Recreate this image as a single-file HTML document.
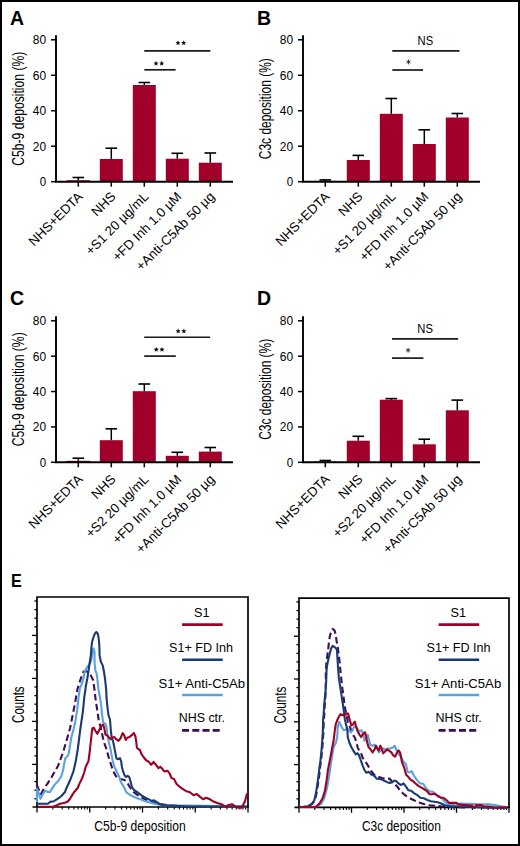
<!DOCTYPE html>
<html><head><meta charset="utf-8"><style>
html,body{margin:0;padding:0;background:#fff;}
body{width:520px;height:846px;overflow:hidden;}
.frame{position:absolute;left:0;top:0;width:520px;height:846px;box-sizing:border-box;border:2px solid #000;}
svg{position:absolute;left:0;top:0;font-family:"Liberation Sans",sans-serif;}
</style></head><body>
<svg width="520" height="846" viewBox="0 0 520 846">
<text x="10" y="24.5" font-family="Liberation Sans" font-weight="bold" font-size="19.5">A</text>
<line x1="56" y1="35.30" x2="56" y2="181.7" stroke="#000" stroke-width="1.9"/>
<line x1="51" y1="181.70" x2="56" y2="181.70" stroke="#000" stroke-width="1.5"/>
<text x="46.1" y="186.10" text-anchor="end" font-family="Liberation Sans" font-size="13.5" textLength="6.4" lengthAdjust="spacingAndGlyphs">0</text>
<line x1="51" y1="146.22" x2="56" y2="146.22" stroke="#000" stroke-width="1.5"/>
<text x="46.1" y="150.62" text-anchor="end" font-family="Liberation Sans" font-size="13.5" textLength="13.3" lengthAdjust="spacingAndGlyphs">20</text>
<line x1="51" y1="110.75" x2="56" y2="110.75" stroke="#000" stroke-width="1.5"/>
<text x="46.1" y="115.15" text-anchor="end" font-family="Liberation Sans" font-size="13.5" textLength="13.3" lengthAdjust="spacingAndGlyphs">40</text>
<line x1="51" y1="75.27" x2="56" y2="75.27" stroke="#000" stroke-width="1.5"/>
<text x="46.1" y="79.67" text-anchor="end" font-family="Liberation Sans" font-size="13.5" textLength="13.3" lengthAdjust="spacingAndGlyphs">60</text>
<line x1="51" y1="39.80" x2="56" y2="39.80" stroke="#000" stroke-width="1.5"/>
<text x="46.1" y="44.20" text-anchor="end" font-family="Liberation Sans" font-size="13.5" textLength="13.3" lengthAdjust="spacingAndGlyphs">80</text>
<text transform="translate(23.700000000000003,108.69999999999999) rotate(-90)" text-anchor="middle" font-family="Liberation Sans" font-size="16.5" textLength="114" lengthAdjust="spacingAndGlyphs">C5b-9 deposition (%)</text>
<rect x="66.80" y="180.20" width="23" height="1.50" fill="#A0002A"/>
<line x1="78.30" y1="177.50" x2="78.30" y2="180.20" stroke="#000" stroke-width="1.5"/>
<line x1="72.50" y1="177.50" x2="84.10" y2="177.50" stroke="#000" stroke-width="1.6"/>
<rect x="99.80" y="159.00" width="23" height="22.70" fill="#A0002A"/>
<line x1="111.30" y1="148.20" x2="111.30" y2="159.00" stroke="#000" stroke-width="1.5"/>
<line x1="105.50" y1="148.20" x2="117.10" y2="148.20" stroke="#000" stroke-width="1.6"/>
<rect x="132.80" y="85.00" width="23" height="96.70" fill="#A0002A"/>
<line x1="144.30" y1="82.50" x2="144.30" y2="85.00" stroke="#000" stroke-width="1.5"/>
<line x1="138.50" y1="82.50" x2="150.10" y2="82.50" stroke="#000" stroke-width="1.6"/>
<rect x="165.80" y="158.70" width="23" height="23.00" fill="#A0002A"/>
<line x1="177.30" y1="153.30" x2="177.30" y2="158.70" stroke="#000" stroke-width="1.5"/>
<line x1="171.50" y1="153.30" x2="183.10" y2="153.30" stroke="#000" stroke-width="1.6"/>
<rect x="198.80" y="162.70" width="23" height="19.00" fill="#A0002A"/>
<line x1="210.30" y1="153.00" x2="210.30" y2="162.70" stroke="#000" stroke-width="1.5"/>
<line x1="204.50" y1="153.00" x2="216.10" y2="153.00" stroke="#000" stroke-width="1.6"/>
<line x1="55.05" y1="181.7" x2="233" y2="181.7" stroke="#000" stroke-width="1.9"/>
<line x1="78.30" y1="181.7" x2="78.30" y2="186.7" stroke="#000" stroke-width="1.5"/>
<line x1="111.30" y1="181.7" x2="111.30" y2="186.7" stroke="#000" stroke-width="1.5"/>
<line x1="144.30" y1="181.7" x2="144.30" y2="186.7" stroke="#000" stroke-width="1.5"/>
<line x1="177.30" y1="181.7" x2="177.30" y2="186.7" stroke="#000" stroke-width="1.5"/>
<line x1="210.30" y1="181.7" x2="210.30" y2="186.7" stroke="#000" stroke-width="1.5"/>
<text transform="translate(83.40,197.40) rotate(-45)" text-anchor="end" font-family="Liberation Sans" font-size="13.2">NHS+EDTA</text>
<text transform="translate(116.40,197.40) rotate(-45)" text-anchor="end" font-family="Liberation Sans" font-size="13.2">NHS</text>
<text transform="translate(149.40,197.40) rotate(-45)" text-anchor="end" font-family="Liberation Sans" font-size="13.2">+S1 20 µg/mL</text>
<text transform="translate(182.40,197.40) rotate(-45)" text-anchor="end" font-family="Liberation Sans" font-size="13.2">+FD Inh 1.0 µM</text>
<text transform="translate(215.40,197.40) rotate(-45)" text-anchor="end" font-family="Liberation Sans" font-size="13.2">+Anti-C5Ab 50 µg</text>
<line x1="144.30" y1="69.8" x2="175.60" y2="69.8" stroke="#1a1a1a" stroke-width="1.7"/>
<line x1="144.30" y1="50.8" x2="210.40" y2="50.8" stroke="#1a1a1a" stroke-width="1.7"/>
<polygon points="156.00,60.80 156.73,62.44 158.52,62.63 157.18,63.83 157.56,65.59 156.00,64.70 154.44,65.59 154.82,63.83 153.48,62.63 155.27,62.44" fill="#111"/>
<polygon points="161.70,60.80 162.43,62.44 164.22,62.63 162.88,63.83 163.26,65.59 161.70,64.70 160.14,65.59 160.52,63.83 159.18,62.63 160.97,62.44" fill="#111"/>
<polygon points="178.00,40.30 178.73,41.94 180.52,42.13 179.18,43.33 179.56,45.09 178.00,44.20 176.44,45.09 176.82,43.33 175.48,42.13 177.27,41.94" fill="#111"/>
<polygon points="183.70,40.30 184.43,41.94 186.22,42.13 184.88,43.33 185.26,45.09 183.70,44.20 182.14,45.09 182.52,43.33 181.18,42.13 182.97,41.94" fill="#111"/>
<text x="257" y="24.5" font-family="Liberation Sans" font-weight="bold" font-size="19.5">B</text>
<line x1="303" y1="35.30" x2="303" y2="181.7" stroke="#000" stroke-width="1.9"/>
<line x1="298" y1="181.70" x2="303" y2="181.70" stroke="#000" stroke-width="1.5"/>
<text x="293.1" y="186.10" text-anchor="end" font-family="Liberation Sans" font-size="13.5" textLength="6.4" lengthAdjust="spacingAndGlyphs">0</text>
<line x1="298" y1="146.22" x2="303" y2="146.22" stroke="#000" stroke-width="1.5"/>
<text x="293.1" y="150.62" text-anchor="end" font-family="Liberation Sans" font-size="13.5" textLength="13.3" lengthAdjust="spacingAndGlyphs">20</text>
<line x1="298" y1="110.75" x2="303" y2="110.75" stroke="#000" stroke-width="1.5"/>
<text x="293.1" y="115.15" text-anchor="end" font-family="Liberation Sans" font-size="13.5" textLength="13.3" lengthAdjust="spacingAndGlyphs">40</text>
<line x1="298" y1="75.27" x2="303" y2="75.27" stroke="#000" stroke-width="1.5"/>
<text x="293.1" y="79.67" text-anchor="end" font-family="Liberation Sans" font-size="13.5" textLength="13.3" lengthAdjust="spacingAndGlyphs">60</text>
<line x1="298" y1="39.80" x2="303" y2="39.80" stroke="#000" stroke-width="1.5"/>
<text x="293.1" y="44.20" text-anchor="end" font-family="Liberation Sans" font-size="13.5" textLength="13.3" lengthAdjust="spacingAndGlyphs">80</text>
<text transform="translate(270.7,108.69999999999999) rotate(-90)" text-anchor="middle" font-family="Liberation Sans" font-size="16.5" textLength="101" lengthAdjust="spacingAndGlyphs">C3c deposition (%)</text>
<rect x="313.80" y="180.90" width="23" height="0.80" fill="#A0002A"/>
<line x1="325.30" y1="179.90" x2="325.30" y2="180.90" stroke="#000" stroke-width="1.5"/>
<line x1="319.50" y1="179.90" x2="331.10" y2="179.90" stroke="#000" stroke-width="1.6"/>
<rect x="346.80" y="160.00" width="23" height="21.70" fill="#A0002A"/>
<line x1="358.30" y1="155.40" x2="358.30" y2="160.00" stroke="#000" stroke-width="1.5"/>
<line x1="352.50" y1="155.40" x2="364.10" y2="155.40" stroke="#000" stroke-width="1.6"/>
<rect x="379.80" y="113.80" width="23" height="67.90" fill="#A0002A"/>
<line x1="391.30" y1="98.50" x2="391.30" y2="113.80" stroke="#000" stroke-width="1.5"/>
<line x1="385.50" y1="98.50" x2="397.10" y2="98.50" stroke="#000" stroke-width="1.6"/>
<rect x="412.80" y="144.00" width="23" height="37.70" fill="#A0002A"/>
<line x1="424.30" y1="129.80" x2="424.30" y2="144.00" stroke="#000" stroke-width="1.5"/>
<line x1="418.50" y1="129.80" x2="430.10" y2="129.80" stroke="#000" stroke-width="1.6"/>
<rect x="445.80" y="117.50" width="23" height="64.20" fill="#A0002A"/>
<line x1="457.30" y1="113.50" x2="457.30" y2="117.50" stroke="#000" stroke-width="1.5"/>
<line x1="451.50" y1="113.50" x2="463.10" y2="113.50" stroke="#000" stroke-width="1.6"/>
<line x1="302.05" y1="181.7" x2="480" y2="181.7" stroke="#000" stroke-width="1.9"/>
<line x1="325.30" y1="181.7" x2="325.30" y2="186.7" stroke="#000" stroke-width="1.5"/>
<line x1="358.30" y1="181.7" x2="358.30" y2="186.7" stroke="#000" stroke-width="1.5"/>
<line x1="391.30" y1="181.7" x2="391.30" y2="186.7" stroke="#000" stroke-width="1.5"/>
<line x1="424.30" y1="181.7" x2="424.30" y2="186.7" stroke="#000" stroke-width="1.5"/>
<line x1="457.30" y1="181.7" x2="457.30" y2="186.7" stroke="#000" stroke-width="1.5"/>
<text transform="translate(330.40,197.40) rotate(-45)" text-anchor="end" font-family="Liberation Sans" font-size="13.2">NHS+EDTA</text>
<text transform="translate(363.40,197.40) rotate(-45)" text-anchor="end" font-family="Liberation Sans" font-size="13.2">NHS</text>
<text transform="translate(396.40,197.40) rotate(-45)" text-anchor="end" font-family="Liberation Sans" font-size="13.2">+S1 20 µg/mL</text>
<text transform="translate(429.40,197.40) rotate(-45)" text-anchor="end" font-family="Liberation Sans" font-size="13.2">+FD Inh 1.0 µM</text>
<text transform="translate(462.40,197.40) rotate(-45)" text-anchor="end" font-family="Liberation Sans" font-size="13.2">+Anti-C5Ab 50 µg</text>
<line x1="392.30" y1="70" x2="423.10" y2="70" stroke="#1a1a1a" stroke-width="1.7"/>
<line x1="392.30" y1="50.8" x2="459.50" y2="50.8" stroke="#1a1a1a" stroke-width="1.7"/>
<line x1="408.50" y1="59.50" x2="408.50" y2="64.40" stroke="#111" stroke-width="0.75"/><line x1="410.62" y1="60.73" x2="406.38" y2="63.18" stroke="#111" stroke-width="0.75"/><line x1="410.62" y1="63.18" x2="406.38" y2="60.73" stroke="#111" stroke-width="0.75"/>
<text x="425.40" y="44.6" text-anchor="middle" font-family="Liberation Sans" font-size="12.2" textLength="15.6" lengthAdjust="spacingAndGlyphs">NS</text>
<text x="10" y="305.1" font-family="Liberation Sans" font-weight="bold" font-size="19.5">C</text>
<line x1="56" y1="316.30" x2="56" y2="462.3" stroke="#000" stroke-width="1.9"/>
<line x1="51" y1="462.30" x2="56" y2="462.30" stroke="#000" stroke-width="1.5"/>
<text x="46.1" y="466.70" text-anchor="end" font-family="Liberation Sans" font-size="13.5" textLength="6.4" lengthAdjust="spacingAndGlyphs">0</text>
<line x1="51" y1="426.93" x2="56" y2="426.93" stroke="#000" stroke-width="1.5"/>
<text x="46.1" y="431.32" text-anchor="end" font-family="Liberation Sans" font-size="13.5" textLength="13.3" lengthAdjust="spacingAndGlyphs">20</text>
<line x1="51" y1="391.55" x2="56" y2="391.55" stroke="#000" stroke-width="1.5"/>
<text x="46.1" y="395.95" text-anchor="end" font-family="Liberation Sans" font-size="13.5" textLength="13.3" lengthAdjust="spacingAndGlyphs">40</text>
<line x1="51" y1="356.18" x2="56" y2="356.18" stroke="#000" stroke-width="1.5"/>
<text x="46.1" y="360.57" text-anchor="end" font-family="Liberation Sans" font-size="13.5" textLength="13.3" lengthAdjust="spacingAndGlyphs">60</text>
<line x1="51" y1="320.80" x2="56" y2="320.80" stroke="#000" stroke-width="1.5"/>
<text x="46.1" y="325.20" text-anchor="end" font-family="Liberation Sans" font-size="13.5" textLength="13.3" lengthAdjust="spacingAndGlyphs">80</text>
<text transform="translate(23.700000000000003,389.3) rotate(-90)" text-anchor="middle" font-family="Liberation Sans" font-size="16.5" textLength="114" lengthAdjust="spacingAndGlyphs">C5b-9 deposition (%)</text>
<rect x="66.80" y="460.80" width="23" height="1.50" fill="#A0002A"/>
<line x1="78.30" y1="458.20" x2="78.30" y2="460.80" stroke="#000" stroke-width="1.5"/>
<line x1="72.50" y1="458.20" x2="84.10" y2="458.20" stroke="#000" stroke-width="1.6"/>
<rect x="99.80" y="440.20" width="23" height="22.10" fill="#A0002A"/>
<line x1="111.30" y1="428.80" x2="111.30" y2="440.20" stroke="#000" stroke-width="1.5"/>
<line x1="105.50" y1="428.80" x2="117.10" y2="428.80" stroke="#000" stroke-width="1.6"/>
<rect x="132.80" y="391.20" width="23" height="71.10" fill="#A0002A"/>
<line x1="144.30" y1="384.00" x2="144.30" y2="391.20" stroke="#000" stroke-width="1.5"/>
<line x1="138.50" y1="384.00" x2="150.10" y2="384.00" stroke="#000" stroke-width="1.6"/>
<rect x="165.80" y="455.80" width="23" height="6.50" fill="#A0002A"/>
<line x1="177.30" y1="452.30" x2="177.30" y2="455.80" stroke="#000" stroke-width="1.5"/>
<line x1="171.50" y1="452.30" x2="183.10" y2="452.30" stroke="#000" stroke-width="1.6"/>
<rect x="198.80" y="451.60" width="23" height="10.70" fill="#A0002A"/>
<line x1="210.30" y1="447.50" x2="210.30" y2="451.60" stroke="#000" stroke-width="1.5"/>
<line x1="204.50" y1="447.50" x2="216.10" y2="447.50" stroke="#000" stroke-width="1.6"/>
<line x1="55.05" y1="462.3" x2="233" y2="462.3" stroke="#000" stroke-width="1.9"/>
<line x1="78.30" y1="462.3" x2="78.30" y2="467.3" stroke="#000" stroke-width="1.5"/>
<line x1="111.30" y1="462.3" x2="111.30" y2="467.3" stroke="#000" stroke-width="1.5"/>
<line x1="144.30" y1="462.3" x2="144.30" y2="467.3" stroke="#000" stroke-width="1.5"/>
<line x1="177.30" y1="462.3" x2="177.30" y2="467.3" stroke="#000" stroke-width="1.5"/>
<line x1="210.30" y1="462.3" x2="210.30" y2="467.3" stroke="#000" stroke-width="1.5"/>
<text transform="translate(83.40,480.10) rotate(-45)" text-anchor="end" font-family="Liberation Sans" font-size="13.2">NHS+EDTA</text>
<text transform="translate(116.40,480.10) rotate(-45)" text-anchor="end" font-family="Liberation Sans" font-size="13.2">NHS</text>
<text transform="translate(149.40,480.10) rotate(-45)" text-anchor="end" font-family="Liberation Sans" font-size="13.2">+S2 20 µg/mL</text>
<text transform="translate(182.40,480.10) rotate(-45)" text-anchor="end" font-family="Liberation Sans" font-size="13.2">+FD Inh 1.0 µM</text>
<text transform="translate(215.40,480.10) rotate(-45)" text-anchor="end" font-family="Liberation Sans" font-size="13.2">+Anti-C5Ab 50 µg</text>
<line x1="144.20" y1="356.1" x2="175.80" y2="356.1" stroke="#1a1a1a" stroke-width="1.7"/>
<line x1="144.20" y1="337.25" x2="210.20" y2="337.25" stroke="#1a1a1a" stroke-width="1.7"/>
<polygon points="156.25,346.90 156.98,348.54 158.77,348.73 157.43,349.93 157.81,351.69 156.25,350.80 154.69,351.69 155.07,349.93 153.73,348.73 155.52,348.54" fill="#111"/>
<polygon points="161.95,346.90 162.68,348.54 164.47,348.73 163.13,349.93 163.51,351.69 161.95,350.80 160.39,351.69 160.77,349.93 159.43,348.73 161.22,348.54" fill="#111"/>
<polygon points="178.15,328.50 178.88,330.14 180.67,330.33 179.33,331.53 179.71,333.29 178.15,332.40 176.59,333.29 176.97,331.53 175.63,330.33 177.42,330.14" fill="#111"/>
<polygon points="183.85,328.50 184.58,330.14 186.37,330.33 185.03,331.53 185.41,333.29 183.85,332.40 182.29,333.29 182.67,331.53 181.33,330.33 183.12,330.14" fill="#111"/>
<text x="257" y="305.1" font-family="Liberation Sans" font-weight="bold" font-size="19.5">D</text>
<line x1="303" y1="316.30" x2="303" y2="462.3" stroke="#000" stroke-width="1.9"/>
<line x1="298" y1="462.30" x2="303" y2="462.30" stroke="#000" stroke-width="1.5"/>
<text x="293.1" y="466.70" text-anchor="end" font-family="Liberation Sans" font-size="13.5" textLength="6.4" lengthAdjust="spacingAndGlyphs">0</text>
<line x1="298" y1="426.93" x2="303" y2="426.93" stroke="#000" stroke-width="1.5"/>
<text x="293.1" y="431.32" text-anchor="end" font-family="Liberation Sans" font-size="13.5" textLength="13.3" lengthAdjust="spacingAndGlyphs">20</text>
<line x1="298" y1="391.55" x2="303" y2="391.55" stroke="#000" stroke-width="1.5"/>
<text x="293.1" y="395.95" text-anchor="end" font-family="Liberation Sans" font-size="13.5" textLength="13.3" lengthAdjust="spacingAndGlyphs">40</text>
<line x1="298" y1="356.18" x2="303" y2="356.18" stroke="#000" stroke-width="1.5"/>
<text x="293.1" y="360.57" text-anchor="end" font-family="Liberation Sans" font-size="13.5" textLength="13.3" lengthAdjust="spacingAndGlyphs">60</text>
<line x1="298" y1="320.80" x2="303" y2="320.80" stroke="#000" stroke-width="1.5"/>
<text x="293.1" y="325.20" text-anchor="end" font-family="Liberation Sans" font-size="13.5" textLength="13.3" lengthAdjust="spacingAndGlyphs">80</text>
<text transform="translate(270.7,389.3) rotate(-90)" text-anchor="middle" font-family="Liberation Sans" font-size="16.5" textLength="101" lengthAdjust="spacingAndGlyphs">C3c deposition (%)</text>
<rect x="313.80" y="461.60" width="23" height="0.70" fill="#A0002A"/>
<line x1="325.30" y1="460.50" x2="325.30" y2="461.60" stroke="#000" stroke-width="1.5"/>
<line x1="319.50" y1="460.50" x2="331.10" y2="460.50" stroke="#000" stroke-width="1.6"/>
<rect x="346.80" y="440.70" width="23" height="21.60" fill="#A0002A"/>
<line x1="358.30" y1="436.30" x2="358.30" y2="440.70" stroke="#000" stroke-width="1.5"/>
<line x1="352.50" y1="436.30" x2="364.10" y2="436.30" stroke="#000" stroke-width="1.6"/>
<rect x="379.80" y="399.70" width="23" height="62.60" fill="#A0002A"/>
<line x1="391.30" y1="398.60" x2="391.30" y2="399.70" stroke="#000" stroke-width="1.5"/>
<line x1="385.50" y1="398.60" x2="397.10" y2="398.60" stroke="#000" stroke-width="1.6"/>
<rect x="412.80" y="444.30" width="23" height="18.00" fill="#A0002A"/>
<line x1="424.30" y1="439.20" x2="424.30" y2="444.30" stroke="#000" stroke-width="1.5"/>
<line x1="418.50" y1="439.20" x2="430.10" y2="439.20" stroke="#000" stroke-width="1.6"/>
<rect x="445.80" y="410.30" width="23" height="52.00" fill="#A0002A"/>
<line x1="457.30" y1="400.10" x2="457.30" y2="410.30" stroke="#000" stroke-width="1.5"/>
<line x1="451.50" y1="400.10" x2="463.10" y2="400.10" stroke="#000" stroke-width="1.6"/>
<line x1="302.05" y1="462.3" x2="480" y2="462.3" stroke="#000" stroke-width="1.9"/>
<line x1="325.30" y1="462.3" x2="325.30" y2="467.3" stroke="#000" stroke-width="1.5"/>
<line x1="358.30" y1="462.3" x2="358.30" y2="467.3" stroke="#000" stroke-width="1.5"/>
<line x1="391.30" y1="462.3" x2="391.30" y2="467.3" stroke="#000" stroke-width="1.5"/>
<line x1="424.30" y1="462.3" x2="424.30" y2="467.3" stroke="#000" stroke-width="1.5"/>
<line x1="457.30" y1="462.3" x2="457.30" y2="467.3" stroke="#000" stroke-width="1.5"/>
<text transform="translate(330.40,480.10) rotate(-45)" text-anchor="end" font-family="Liberation Sans" font-size="13.2">NHS+EDTA</text>
<text transform="translate(363.40,480.10) rotate(-45)" text-anchor="end" font-family="Liberation Sans" font-size="13.2">NHS</text>
<text transform="translate(396.40,480.10) rotate(-45)" text-anchor="end" font-family="Liberation Sans" font-size="13.2">+S2 20 µg/mL</text>
<text transform="translate(429.40,480.10) rotate(-45)" text-anchor="end" font-family="Liberation Sans" font-size="13.2">+FD Inh 1.0 µM</text>
<text transform="translate(462.40,480.10) rotate(-45)" text-anchor="end" font-family="Liberation Sans" font-size="13.2">+Anti-C5Ab 50 µg</text>
<line x1="392.00" y1="358.1" x2="423.40" y2="358.1" stroke="#1a1a1a" stroke-width="1.7"/>
<line x1="392.00" y1="338.8" x2="458.10" y2="338.8" stroke="#1a1a1a" stroke-width="1.7"/>
<line x1="408.10" y1="347.80" x2="408.10" y2="352.70" stroke="#111" stroke-width="0.75"/><line x1="410.22" y1="349.02" x2="405.98" y2="351.48" stroke="#111" stroke-width="0.75"/><line x1="410.22" y1="351.48" x2="405.98" y2="349.02" stroke="#111" stroke-width="0.75"/>
<text x="425.15" y="332.7" text-anchor="middle" font-family="Liberation Sans" font-size="12.2" textLength="15.6" lengthAdjust="spacingAndGlyphs">NS</text>
<text x="11.1" y="587.4" font-family="Liberation Sans" font-weight="bold" font-size="19.1" textLength="10.8" lengthAdjust="spacingAndGlyphs">E</text>
<text transform="translate(23.9,704.65) rotate(-90)" text-anchor="middle" font-family="Liberation Sans" font-size="16.7" textLength="36.5" lengthAdjust="spacingAndGlyphs">Counts</text>
<text transform="translate(286.1,705.15) rotate(-90)" text-anchor="middle" font-family="Liberation Sans" font-size="16.7" textLength="36.9" lengthAdjust="spacingAndGlyphs">Counts</text>
<path d="M37,807 L37,597 L248,597 L248,807" fill="none" stroke="#000" stroke-width="1.7"/>
<line x1="32.5" y1="807" x2="248.85" y2="807" stroke="#000" stroke-width="1.7"/>
<line x1="34.4" y1="601.00" x2="37" y2="601.00" stroke="#000" stroke-width="1.3"/>
<line x1="34.4" y1="609.60" x2="37" y2="609.60" stroke="#000" stroke-width="1.3"/>
<line x1="34.4" y1="618.20" x2="37" y2="618.20" stroke="#000" stroke-width="1.3"/>
<line x1="34.4" y1="626.80" x2="37" y2="626.80" stroke="#000" stroke-width="1.3"/>
<line x1="32" y1="635.40" x2="37" y2="635.40" stroke="#000" stroke-width="1.3"/>
<line x1="34.4" y1="644.00" x2="37" y2="644.00" stroke="#000" stroke-width="1.3"/>
<line x1="34.4" y1="652.60" x2="37" y2="652.60" stroke="#000" stroke-width="1.3"/>
<line x1="34.4" y1="661.20" x2="37" y2="661.20" stroke="#000" stroke-width="1.3"/>
<line x1="34.4" y1="669.80" x2="37" y2="669.80" stroke="#000" stroke-width="1.3"/>
<line x1="32" y1="678.40" x2="37" y2="678.40" stroke="#000" stroke-width="1.3"/>
<line x1="34.4" y1="687.00" x2="37" y2="687.00" stroke="#000" stroke-width="1.3"/>
<line x1="34.4" y1="695.60" x2="37" y2="695.60" stroke="#000" stroke-width="1.3"/>
<line x1="34.4" y1="704.20" x2="37" y2="704.20" stroke="#000" stroke-width="1.3"/>
<line x1="34.4" y1="712.80" x2="37" y2="712.80" stroke="#000" stroke-width="1.3"/>
<line x1="32" y1="721.40" x2="37" y2="721.40" stroke="#000" stroke-width="1.3"/>
<line x1="34.4" y1="730.00" x2="37" y2="730.00" stroke="#000" stroke-width="1.3"/>
<line x1="34.4" y1="738.60" x2="37" y2="738.60" stroke="#000" stroke-width="1.3"/>
<line x1="34.4" y1="747.20" x2="37" y2="747.20" stroke="#000" stroke-width="1.3"/>
<line x1="34.4" y1="755.80" x2="37" y2="755.80" stroke="#000" stroke-width="1.3"/>
<line x1="32" y1="764.40" x2="37" y2="764.40" stroke="#000" stroke-width="1.3"/>
<line x1="34.4" y1="773.00" x2="37" y2="773.00" stroke="#000" stroke-width="1.3"/>
<line x1="34.4" y1="781.60" x2="37" y2="781.60" stroke="#000" stroke-width="1.3"/>
<line x1="34.4" y1="790.20" x2="37" y2="790.20" stroke="#000" stroke-width="1.3"/>
<line x1="34.4" y1="798.80" x2="37" y2="798.80" stroke="#000" stroke-width="1.3"/>
<line x1="37.00" y1="807" x2="37.00" y2="812.5" stroke="#000" stroke-width="1.3"/>
<line x1="52.88" y1="807" x2="52.88" y2="809.6" stroke="#000" stroke-width="1.1"/>
<line x1="62.17" y1="807" x2="62.17" y2="809.6" stroke="#000" stroke-width="1.1"/>
<line x1="68.76" y1="807" x2="68.76" y2="809.6" stroke="#000" stroke-width="1.1"/>
<line x1="73.87" y1="807" x2="73.87" y2="809.6" stroke="#000" stroke-width="1.1"/>
<line x1="78.05" y1="807" x2="78.05" y2="809.6" stroke="#000" stroke-width="1.1"/>
<line x1="81.58" y1="807" x2="81.58" y2="809.6" stroke="#000" stroke-width="1.1"/>
<line x1="84.64" y1="807" x2="84.64" y2="809.6" stroke="#000" stroke-width="1.1"/>
<line x1="87.34" y1="807" x2="87.34" y2="809.6" stroke="#000" stroke-width="1.1"/>
<line x1="89.75" y1="807" x2="89.75" y2="812.5" stroke="#000" stroke-width="1.3"/>
<line x1="105.63" y1="807" x2="105.63" y2="809.6" stroke="#000" stroke-width="1.1"/>
<line x1="114.92" y1="807" x2="114.92" y2="809.6" stroke="#000" stroke-width="1.1"/>
<line x1="121.51" y1="807" x2="121.51" y2="809.6" stroke="#000" stroke-width="1.1"/>
<line x1="126.62" y1="807" x2="126.62" y2="809.6" stroke="#000" stroke-width="1.1"/>
<line x1="130.80" y1="807" x2="130.80" y2="809.6" stroke="#000" stroke-width="1.1"/>
<line x1="134.33" y1="807" x2="134.33" y2="809.6" stroke="#000" stroke-width="1.1"/>
<line x1="137.39" y1="807" x2="137.39" y2="809.6" stroke="#000" stroke-width="1.1"/>
<line x1="140.09" y1="807" x2="140.09" y2="809.6" stroke="#000" stroke-width="1.1"/>
<line x1="142.50" y1="807" x2="142.50" y2="812.5" stroke="#000" stroke-width="1.3"/>
<line x1="158.38" y1="807" x2="158.38" y2="809.6" stroke="#000" stroke-width="1.1"/>
<line x1="167.67" y1="807" x2="167.67" y2="809.6" stroke="#000" stroke-width="1.1"/>
<line x1="174.26" y1="807" x2="174.26" y2="809.6" stroke="#000" stroke-width="1.1"/>
<line x1="179.37" y1="807" x2="179.37" y2="809.6" stroke="#000" stroke-width="1.1"/>
<line x1="183.55" y1="807" x2="183.55" y2="809.6" stroke="#000" stroke-width="1.1"/>
<line x1="187.08" y1="807" x2="187.08" y2="809.6" stroke="#000" stroke-width="1.1"/>
<line x1="190.14" y1="807" x2="190.14" y2="809.6" stroke="#000" stroke-width="1.1"/>
<line x1="192.84" y1="807" x2="192.84" y2="809.6" stroke="#000" stroke-width="1.1"/>
<line x1="195.25" y1="807" x2="195.25" y2="812.5" stroke="#000" stroke-width="1.3"/>
<line x1="211.13" y1="807" x2="211.13" y2="809.6" stroke="#000" stroke-width="1.1"/>
<line x1="220.42" y1="807" x2="220.42" y2="809.6" stroke="#000" stroke-width="1.1"/>
<line x1="227.01" y1="807" x2="227.01" y2="809.6" stroke="#000" stroke-width="1.1"/>
<line x1="232.12" y1="807" x2="232.12" y2="809.6" stroke="#000" stroke-width="1.1"/>
<line x1="236.30" y1="807" x2="236.30" y2="809.6" stroke="#000" stroke-width="1.1"/>
<line x1="239.83" y1="807" x2="239.83" y2="809.6" stroke="#000" stroke-width="1.1"/>
<line x1="242.89" y1="807" x2="242.89" y2="809.6" stroke="#000" stroke-width="1.1"/>
<line x1="245.59" y1="807" x2="245.59" y2="809.6" stroke="#000" stroke-width="1.1"/>
<line x1="248.00" y1="807" x2="248.00" y2="812.5" stroke="#000" stroke-width="1.3"/>
<text x="94.3" y="830.9" font-family="Liberation Sans" font-size="14.6" textLength="91.4" lengthAdjust="spacingAndGlyphs">C5b-9 deposition</text>
<path d="M299,807.3 L299,598.2 L509,598.2 L509,807.3" fill="none" stroke="#000" stroke-width="1.7"/>
<line x1="294.5" y1="807.3" x2="509.85" y2="807.3" stroke="#000" stroke-width="1.7"/>
<line x1="296.4" y1="601.96" x2="299" y2="601.96" stroke="#000" stroke-width="1.3"/>
<line x1="296.4" y1="610.52" x2="299" y2="610.52" stroke="#000" stroke-width="1.3"/>
<line x1="296.4" y1="619.08" x2="299" y2="619.08" stroke="#000" stroke-width="1.3"/>
<line x1="296.4" y1="627.64" x2="299" y2="627.64" stroke="#000" stroke-width="1.3"/>
<line x1="294" y1="636.20" x2="299" y2="636.20" stroke="#000" stroke-width="1.3"/>
<line x1="296.4" y1="644.76" x2="299" y2="644.76" stroke="#000" stroke-width="1.3"/>
<line x1="296.4" y1="653.32" x2="299" y2="653.32" stroke="#000" stroke-width="1.3"/>
<line x1="296.4" y1="661.88" x2="299" y2="661.88" stroke="#000" stroke-width="1.3"/>
<line x1="296.4" y1="670.44" x2="299" y2="670.44" stroke="#000" stroke-width="1.3"/>
<line x1="294" y1="679.00" x2="299" y2="679.00" stroke="#000" stroke-width="1.3"/>
<line x1="296.4" y1="687.56" x2="299" y2="687.56" stroke="#000" stroke-width="1.3"/>
<line x1="296.4" y1="696.12" x2="299" y2="696.12" stroke="#000" stroke-width="1.3"/>
<line x1="296.4" y1="704.68" x2="299" y2="704.68" stroke="#000" stroke-width="1.3"/>
<line x1="296.4" y1="713.24" x2="299" y2="713.24" stroke="#000" stroke-width="1.3"/>
<line x1="294" y1="721.80" x2="299" y2="721.80" stroke="#000" stroke-width="1.3"/>
<line x1="296.4" y1="730.36" x2="299" y2="730.36" stroke="#000" stroke-width="1.3"/>
<line x1="296.4" y1="738.92" x2="299" y2="738.92" stroke="#000" stroke-width="1.3"/>
<line x1="296.4" y1="747.48" x2="299" y2="747.48" stroke="#000" stroke-width="1.3"/>
<line x1="296.4" y1="756.04" x2="299" y2="756.04" stroke="#000" stroke-width="1.3"/>
<line x1="294" y1="764.60" x2="299" y2="764.60" stroke="#000" stroke-width="1.3"/>
<line x1="296.4" y1="773.16" x2="299" y2="773.16" stroke="#000" stroke-width="1.3"/>
<line x1="296.4" y1="781.72" x2="299" y2="781.72" stroke="#000" stroke-width="1.3"/>
<line x1="296.4" y1="790.28" x2="299" y2="790.28" stroke="#000" stroke-width="1.3"/>
<line x1="296.4" y1="798.84" x2="299" y2="798.84" stroke="#000" stroke-width="1.3"/>
<line x1="299.00" y1="807.3" x2="299.00" y2="812.8" stroke="#000" stroke-width="1.3"/>
<line x1="314.80" y1="807.3" x2="314.80" y2="809.9" stroke="#000" stroke-width="1.1"/>
<line x1="324.05" y1="807.3" x2="324.05" y2="809.9" stroke="#000" stroke-width="1.1"/>
<line x1="330.61" y1="807.3" x2="330.61" y2="809.9" stroke="#000" stroke-width="1.1"/>
<line x1="335.70" y1="807.3" x2="335.70" y2="809.9" stroke="#000" stroke-width="1.1"/>
<line x1="339.85" y1="807.3" x2="339.85" y2="809.9" stroke="#000" stroke-width="1.1"/>
<line x1="343.37" y1="807.3" x2="343.37" y2="809.9" stroke="#000" stroke-width="1.1"/>
<line x1="346.41" y1="807.3" x2="346.41" y2="809.9" stroke="#000" stroke-width="1.1"/>
<line x1="349.10" y1="807.3" x2="349.10" y2="809.9" stroke="#000" stroke-width="1.1"/>
<line x1="351.50" y1="807.3" x2="351.50" y2="812.8" stroke="#000" stroke-width="1.3"/>
<line x1="367.30" y1="807.3" x2="367.30" y2="809.9" stroke="#000" stroke-width="1.1"/>
<line x1="376.55" y1="807.3" x2="376.55" y2="809.9" stroke="#000" stroke-width="1.1"/>
<line x1="383.11" y1="807.3" x2="383.11" y2="809.9" stroke="#000" stroke-width="1.1"/>
<line x1="388.20" y1="807.3" x2="388.20" y2="809.9" stroke="#000" stroke-width="1.1"/>
<line x1="392.35" y1="807.3" x2="392.35" y2="809.9" stroke="#000" stroke-width="1.1"/>
<line x1="395.87" y1="807.3" x2="395.87" y2="809.9" stroke="#000" stroke-width="1.1"/>
<line x1="398.91" y1="807.3" x2="398.91" y2="809.9" stroke="#000" stroke-width="1.1"/>
<line x1="401.60" y1="807.3" x2="401.60" y2="809.9" stroke="#000" stroke-width="1.1"/>
<line x1="404.00" y1="807.3" x2="404.00" y2="812.8" stroke="#000" stroke-width="1.3"/>
<line x1="419.80" y1="807.3" x2="419.80" y2="809.9" stroke="#000" stroke-width="1.1"/>
<line x1="429.05" y1="807.3" x2="429.05" y2="809.9" stroke="#000" stroke-width="1.1"/>
<line x1="435.61" y1="807.3" x2="435.61" y2="809.9" stroke="#000" stroke-width="1.1"/>
<line x1="440.70" y1="807.3" x2="440.70" y2="809.9" stroke="#000" stroke-width="1.1"/>
<line x1="444.85" y1="807.3" x2="444.85" y2="809.9" stroke="#000" stroke-width="1.1"/>
<line x1="448.37" y1="807.3" x2="448.37" y2="809.9" stroke="#000" stroke-width="1.1"/>
<line x1="451.41" y1="807.3" x2="451.41" y2="809.9" stroke="#000" stroke-width="1.1"/>
<line x1="454.10" y1="807.3" x2="454.10" y2="809.9" stroke="#000" stroke-width="1.1"/>
<line x1="456.50" y1="807.3" x2="456.50" y2="812.8" stroke="#000" stroke-width="1.3"/>
<line x1="472.30" y1="807.3" x2="472.30" y2="809.9" stroke="#000" stroke-width="1.1"/>
<line x1="481.55" y1="807.3" x2="481.55" y2="809.9" stroke="#000" stroke-width="1.1"/>
<line x1="488.11" y1="807.3" x2="488.11" y2="809.9" stroke="#000" stroke-width="1.1"/>
<line x1="493.20" y1="807.3" x2="493.20" y2="809.9" stroke="#000" stroke-width="1.1"/>
<line x1="497.35" y1="807.3" x2="497.35" y2="809.9" stroke="#000" stroke-width="1.1"/>
<line x1="500.87" y1="807.3" x2="500.87" y2="809.9" stroke="#000" stroke-width="1.1"/>
<line x1="503.91" y1="807.3" x2="503.91" y2="809.9" stroke="#000" stroke-width="1.1"/>
<line x1="506.60" y1="807.3" x2="506.60" y2="809.9" stroke="#000" stroke-width="1.1"/>
<line x1="509.00" y1="807.3" x2="509.00" y2="812.8" stroke="#000" stroke-width="1.3"/>
<text x="361.9" y="830.9" font-family="Liberation Sans" font-size="14.6" textLength="79" lengthAdjust="spacingAndGlyphs">C3c deposition</text>
<path d="M36.7,784.6 L40.9,794.2 L44.0,788.5 L47.8,783.1 L51.3,777.7 L55.0,771.1 L58.1,765.7 L60.4,759.5 L62.7,753.4 L65.0,745.7 L67.3,738.0 L70.0,728.5 L72.3,716.9 L74.6,705.4 L77.5,689.0 L80.0,680.8 L81.5,677.0 L83.5,671.5 L86.2,671.2 L88.5,672.3 L90.8,675.4 L93.1,680.0 L93.8,684.6 L94.5,690.0 L95.4,697.7 L96.5,705.4 L97.7,713.1 L98.8,720.8 L100.4,726.2 L101.5,731.5 L103.1,738.5 L104.6,743.8 L106.2,748.5 L107.7,753.8 L109.2,759.2 L110.8,763.8 L112.3,768.5 L114.2,773.1 L116.9,777.7 L118.0,778.8 L120.9,779.2 L123.8,779.7 L126.2,781.2 L127.6,783.1 L129.1,786.0 L131.0,788.8 L133.4,791.7 L136.3,794.1 L140.1,796.5 L144.0,798.9 L150.0,801.5 L157.5,803.5 L170.0,805.5 L190.0,806.5" fill="none" stroke="#3E0B58" stroke-width="2.1" stroke-linejoin="round" stroke-dasharray="6.5 3.5"/>
<path d="M37.1,802.3 L37.1,788.5 L38.2,791.5 L40.5,798.8 L44.0,792.3 L45.5,790.8 L47.5,791.9 L49.8,792.3 L51.7,789.2 L55.0,784.2 L58.1,781.1 L61.2,776.5 L63.1,770.3 L64.2,763.4 L65.4,758.0 L67.3,756.5 L68.8,753.4 L70.0,745.7 L71.2,738.0 L73.8,728.5 L75.4,720.8 L77.3,709.2 L78.5,697.7 L79.6,690.0 L80.0,687.7 L81.5,684.6 L83.1,680.0 L84.6,672.3 L86.2,668.5 L88.5,665.4 L90.4,663.0 L91.5,659.2 L92.7,650.0 L93.5,648.5 L94.5,651.5 L94.6,663.0 L95.4,670.8 L96.5,673.0 L97.3,678.5 L98.1,686.2 L98.6,690.0 L100.0,697.7 L101.2,705.4 L101.9,713.1 L103.1,722.3 L105.4,723.8 L106.5,726.9 L107.3,734.0 L108.8,742.3 L110.4,748.5 L111.5,754.6 L112.7,760.8 L114.2,766.2 L116.2,770.8 L118.0,774.4 L119.4,777.3 L120.9,782.1 L122.8,785.0 L124.7,788.8 L126.7,792.7 L130.5,795.1 L134.3,797.0 L139.2,798.9 L144.0,800.9 L148.8,802.3 L154.5,803.8 L159.3,804.7 L164.2,805.2 L190.0,805.5 L247.0,806.5" fill="none" stroke="#5AA2DC" stroke-width="2.1" stroke-linejoin="round"/>
<path d="M37.5,803.8 L47.8,803.8 L50.2,801.9 L54.0,801.2 L57.1,799.2 L60.9,796.5 L64.8,792.3 L66.5,788.0 L70.4,779.5 L73.5,771.1 L75.8,761.1 L77.7,749.5 L79.2,738.0 L80.4,728.5 L81.5,720.8 L82.7,713.1 L83.5,705.4 L84.2,697.7 L85.4,690.0 L85.8,686.2 L87.3,678.5 L88.5,670.8 L89.6,663.1 L90.8,655.4 L91.4,647.8 L92.0,642.3 L93.2,638.0 L94.8,633.7 L96.3,632.0 L97.8,633.7 L98.5,637.4 L99.1,642.3 L99.4,647.8 L99.6,655.4 L100.8,661.5 L102.7,665.4 L103.8,670.8 L105.0,678.5 L105.8,686.2 L106.2,690.0 L106.5,697.7 L107.7,709.2 L108.5,715.4 L110.0,719.5 L110.8,730.0 L111.5,736.2 L113.1,741.5 L114.2,746.9 L115.4,753.1 L116.5,758.5 L118.1,759.2 L120.0,758.1 L121.2,761.5 L121.9,766.9 L123.1,771.5 L124.6,775.4 L126.2,776.9 L127.7,775.8 L129.1,776.8 L130.5,781.2 L131.9,786.9 L133.9,789.8 L137.2,792.2 L141.1,795.1 L144.9,797.5 L148.8,799.4 L151.7,800.9 L154.1,800.4 L156.5,801.8 L159.3,803.8 L163.2,805.2 L185.0,806.3 L247.0,806.5" fill="none" stroke="#1B3A74" stroke-width="2.1" stroke-linejoin="round"/>
<path d="M37.5,806.9 L52.5,806.9 L56.3,805.4 L60.2,803.8 L64.8,802.7 L67.8,801.5 L70.2,798.5 L72.5,794.6 L74.0,792.3 L77.7,788.0 L79.6,783.4 L81.9,778.8 L84.2,772.6 L85.8,766.5 L88.5,761.1 L90.0,749.5 L91.2,738.0 L92.3,728.5 L93.8,727.7 L95.4,730.8 L97.3,733.8 L99.2,730.0 L101.2,726.2 L103.1,724.6 L104.2,727.7 L105.4,734.6 L107.3,735.4 L108.5,736.9 L110.8,739.2 L112.3,737.7 L114.2,736.9 L116.2,739.2 L118.5,740.8 L120.4,738.5 L122.7,733.1 L124.2,735.4 L125.8,740.0 L127.3,737.7 L129.6,736.9 L131.5,735.4 L133.8,733.1 L135.4,736.2 L136.2,741.5 L136.9,747.7 L138.5,749.2 L140.0,750.0 L141.3,753.8 L143.5,757.0 L145.9,760.0 L148.8,761.9 L151.2,764.8 L153.6,761.9 L156.0,764.8 L158.4,768.2 L160.3,766.7 L162.2,768.7 L164.2,771.5 L166.1,771.1 L167.5,770.7 L169.9,774.0 L171.5,778.1 L174.0,778.9 L176.4,783.8 L178.9,786.2 L182.2,788.7 L186.2,791.2 L189.5,792.0 L193.6,795.2 L196.9,794.1 L200.1,796.9 L203.4,799.3 L205.9,797.7 L210.0,799.3 L214.0,801.8 L217.3,802.9 L221.4,804.2 L225.5,806.7 L228.7,805.0 L232.0,804.2 L235.3,806.7 L238.6,807.8 L241.8,807.8 L245.1,801.0 L246.7,794.4 L247.5,793.6" fill="none" stroke="#A00022" stroke-width="2.1" stroke-linejoin="round"/>
<path d="M299.5,807.0 L303.0,807.0 L308.5,806.2 L312.3,803.9 L314.7,800.5 L316.3,794.3 L317.8,785.1 L319.5,773.5 L320.0,768.0 L321.0,761.3 L322.4,746.8 L323.4,732.4 L323.8,720.0 L324.2,716.2 L324.8,704.6 L325.6,693.1 L325.8,681.5 L325.8,671.2 L326.5,662.0 L327.3,655.8 L328.1,649.7 L328.8,643.5 L329.6,637.4 L330.8,632.8 L332.7,628.9 L334.6,630.5 L335.8,635.1 L336.5,640.5 L337.7,646.6 L338.5,652.8 L339.2,658.9 L340.0,665.1 L340.4,671.2 L341.2,677.7 L341.9,685.4 L343.1,693.1 L344.2,702.3 L345.4,710.0 L346.5,714.6 L347.8,721.8 L350.2,727.6 L352.6,734.3 L354.8,737.5 L356.3,741.8 L357.7,747.6 L359.6,751.4 L361.5,754.3 L362.7,757.9 L365.6,761.7 L368.5,766.5 L371.3,771.3 L374.2,774.7 L378.1,776.6 L381.9,778.1 L385.8,778.6 L389.6,778.6 L391.5,781.0 L394.4,783.8 L397.3,786.7 L400.2,790.6 L403.1,793.5 L405.4,795.4 L408.8,797.7 L413.5,800.0 L418.1,802.3 L423.8,804.0 L429.6,805.2 L435.4,805.8 L441.2,806.3 L455.0,807.0 L467.5,807.5" fill="none" stroke="#3E0B58" stroke-width="2.1" stroke-linejoin="round" stroke-dasharray="6.5 3.5"/>
<path d="M299.5,807.0 L314.9,807.0 L317.2,806.2 L321.1,803.9 L324.2,798.2 L327.2,787.4 L329.5,773.5 L331.1,762.0 L332.4,754.5 L333.8,746.8 L335.8,743.0 L337.2,737.2 L337.7,727.6 L339.1,721.8 L341.5,726.7 L343.5,730.0 L344.9,730.0 L347.3,728.6 L349.2,730.5 L350.7,732.4 L351.9,731.2 L354.3,726.4 L356.7,727.4 L359.1,731.2 L361.5,730.3 L363.5,735.1 L364.4,740.8 L366.3,738.0 L367.8,735.1 L368.8,738.9 L370.2,744.7 L372.1,745.7 L374.5,744.7 L376.9,748.5 L378.8,752.4 L380.8,750.5 L383.2,748.5 L385.6,749.5 L388.0,748.5 L390.4,748.5 L392.8,747.6 L394.7,745.7 L396.2,749.5 L398.5,753.8 L401.3,757.3 L403.7,761.9 L406.0,764.2 L407.7,772.3 L410.0,772.3 L411.7,771.2 L414.0,775.8 L416.9,779.8 L419.8,783.3 L423.3,783.8 L426.2,788.5 L429.6,791.3 L433.1,791.9 L436.5,794.8 L439.4,796.5 L442.3,798.8 L445.8,802.9 L449.2,804.5 L457.0,803.5 L468.0,803.8 L479.0,804.4 L489.0,804.4 L495.0,805.0 L501.0,806.2 L507.2,807.4" fill="none" stroke="#5AA2DC" stroke-width="2.1" stroke-linejoin="round"/>
<path d="M299.5,807.0 L302.6,807.0 L308.0,806.2 L311.8,803.9 L314.2,800.5 L315.7,794.3 L317.2,785.1 L318.8,773.5 L319.4,768.0 L320.4,761.3 L321.8,746.8 L322.8,732.4 L323.1,720.0 L323.5,716.2 L324.2,704.6 L325.4,693.1 L326.2,681.5 L326.5,671.2 L326.9,666.6 L328.1,660.5 L329.6,654.3 L331.2,648.2 L332.7,645.8 L335.0,647.4 L336.9,649.7 L337.3,655.8 L337.7,662.0 L338.1,668.2 L338.8,677.7 L340.0,685.4 L341.2,693.1 L342.3,700.8 L343.5,708.5 L344.2,714.6 L345.0,720.0 L345.9,723.8 L347.3,729.5 L347.8,737.2 L349.5,743.0 L351.7,747.7 L353.8,751.4 L355.8,754.3 L357.7,753.3 L359.1,755.3 L360.5,759.5 L362.7,765.6 L364.6,770.4 L366.5,772.8 L368.9,771.8 L370.9,774.2 L374.2,775.7 L376.6,778.6 L380.5,779.0 L383.8,780.5 L386.7,781.9 L389.6,782.9 L392.0,782.4 L394.4,780.5 L396.3,781.2 L399.2,784.0 L401.2,785.0 L403.5,783.4 L406.0,786.7 L408.3,790.2 L411.2,790.8 L414.0,793.1 L416.9,794.8 L420.4,797.7 L423.8,798.3 L427.3,800.0 L430.8,801.2 L434.2,801.7 L437.7,802.3 L441.2,803.5 L444.6,805.2 L449.2,806.3 L455.0,806.3 L467.9,806.8 L485.8,807.7 L507.2,808.0" fill="none" stroke="#1B3A74" stroke-width="2.1" stroke-linejoin="round"/>
<path d="M299.5,807.0 L313.4,807.0 L316.5,806.6 L319.5,803.5 L322.6,798.2 L324.9,791.2 L326.5,781.2 L328.0,769.7 L329.5,762.0 L331.0,754.5 L332.4,746.8 L333.8,739.2 L334.8,730.5 L335.8,723.8 L338.2,718.0 L340.4,714.2 L342.7,715.0 L344.6,715.4 L346.5,713.8 L348.1,713.5 L349.2,717.7 L350.0,720.7 L351.4,725.5 L352.9,724.5 L354.8,721.6 L355.8,725.5 L357.2,730.3 L359.1,734.1 L361.1,737.0 L363.0,734.1 L364.9,732.2 L365.9,735.1 L366.8,740.8 L368.3,746.6 L370.7,749.5 L372.6,752.4 L374.5,749.5 L376.0,745.7 L377.4,748.5 L378.8,750.5 L380.3,745.7 L381.7,748.5 L383.2,753.3 L385.1,751.4 L387.0,749.5 L388.9,750.5 L391.3,752.4 L393.3,755.3 L395.2,756.7 L397.1,752.4 L398.5,750.4 L400.2,752.7 L401.9,761.9 L404.2,767.7 L406.0,774.6 L408.3,776.9 L410.6,779.8 L412.9,781.0 L415.2,783.3 L418.1,785.6 L421.0,787.3 L423.8,789.0 L426.7,790.8 L429.6,794.2 L431.9,794.2 L434.8,793.7 L437.7,796.0 L440.6,797.7 L443.5,797.7 L446.3,800.0 L449.2,802.9 L456.0,802.7 L458.3,804.4 L464.3,805.0 L472.0,805.6 L474.4,808.0 L476.2,805.0 L481.0,805.0 L483.4,806.2 L490.5,806.8 L495.3,807.7 L500.0,807.2 L507.2,807.4" fill="none" stroke="#A00022" stroke-width="2.1" stroke-linejoin="round"/>
<text x="194.1" y="617" font-family="Liberation Sans" font-size="13" textLength="15.5" lengthAdjust="spacingAndGlyphs">S1</text>
<line x1="182.1" y1="624.6" x2="222.7" y2="624.6" stroke="#A00022" stroke-width="2.6"/>
<text x="169" y="652" font-family="Liberation Sans" font-size="13" textLength="64" lengthAdjust="spacingAndGlyphs">S1+ FD Inh</text>
<line x1="182.1" y1="659.8" x2="222.7" y2="659.8" stroke="#1B3A74" stroke-width="2.6"/>
<text x="158.6" y="687.5" font-family="Liberation Sans" font-size="13" textLength="86.5" lengthAdjust="spacingAndGlyphs">S1+ Anti-C5Ab</text>
<line x1="182.1" y1="695" x2="222.7" y2="695" stroke="#5AA2DC" stroke-width="2.6"/>
<text x="178.7" y="722.4" font-family="Liberation Sans" font-size="13" textLength="46.3" lengthAdjust="spacingAndGlyphs">NHS ctr.</text>
<line x1="182.1" y1="730.4" x2="220.1" y2="730.4" stroke="#3E0B58" stroke-width="2.6" stroke-dasharray="7 3.2"/>
<text x="450.5" y="617" font-family="Liberation Sans" font-size="13" textLength="15.5" lengthAdjust="spacingAndGlyphs">S1</text>
<line x1="438.6" y1="624.6" x2="479.20000000000005" y2="624.6" stroke="#A00022" stroke-width="2.6"/>
<text x="426.5" y="652" font-family="Liberation Sans" font-size="13" textLength="64" lengthAdjust="spacingAndGlyphs">S1+ FD Inh</text>
<line x1="438.6" y1="659.8" x2="479.20000000000005" y2="659.8" stroke="#1B3A74" stroke-width="2.6"/>
<text x="414.7" y="687.5" font-family="Liberation Sans" font-size="13" textLength="86.5" lengthAdjust="spacingAndGlyphs">S1+ Anti-C5Ab</text>
<line x1="438.6" y1="695" x2="479.20000000000005" y2="695" stroke="#5AA2DC" stroke-width="2.6"/>
<text x="435.5" y="722.4" font-family="Liberation Sans" font-size="13" textLength="46.3" lengthAdjust="spacingAndGlyphs">NHS ctr.</text>
<line x1="438.6" y1="730.4" x2="476.6" y2="730.4" stroke="#3E0B58" stroke-width="2.6" stroke-dasharray="7 3.2"/>
</svg>
<div class="frame"></div>
</body></html>
